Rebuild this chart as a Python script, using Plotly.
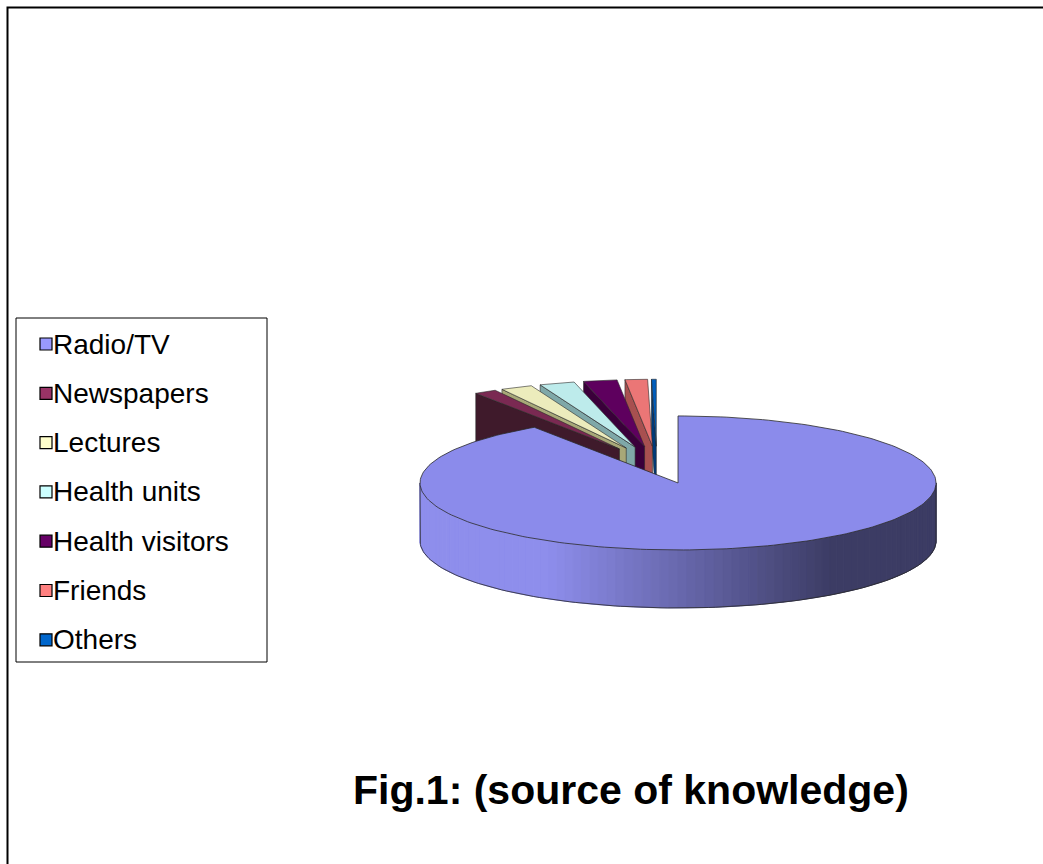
import numpy as np
import plotly.graph_objects as go

# ---------------- data ----------------
categories = ["Radio/TV", "Newspapers", "Lectures", "Health units",
              "Health visitors", "Friends", "Others"]
values = [90.6, 1.4, 2.0, 2.2, 2.1, 1.4, 0.3]
title_text = "Fig.1: (source of knowledge)"

# ---------------- styles ----------------
legend_colors = ["#9999FF", "#993366", "#FFFFCC", "#CCFFFF", "#660066", "#FF8080", "#0066CC"]
top_colors = ["#8b8beb", "#7a2952", "#ececbc", "#bdebeb", "#5e005e", "#eb7676", "#005ebc"]
face_colors = ["#4a4a80", "#3f1a2b", "#a8a878", "#7fa8a8", "#3a003a", "#a85050", "#003a78"]

W, H = 1043, 864
CX0, CY0 = 657.0, 465.0     # pie centre (pixels)
A, B = 258.0, 67.0          # ellipse semi-axes
DEPTH = 58.0                # pie thickness
EXPLODE = 0.28

# legend box geometry (pixels)
LEG_X0, LEG_Y0, LEG_X1, LEG_Y1 = 16, 318, 267, 662
LEG_ROW0, LEG_STEP = 344, 49.3
LEG_SYM_X, LEG_SYM = 46, 12
LEG_TXT_X = 51

FONT = "Liberation Sans, Arial, sans-serif"

fig = go.Figure()

tot = float(sum(values))
angles = np.cumsum([0.0] + [v / tot * 360.0 for v in values])


def arc(cx, cy, t0, t1, n=60, dy=0.0):
    th = np.radians(np.linspace(t0, t1, n))
    return cx + A * np.sin(th), cy - B * np.cos(th) + dy


def centre(i):
    mid = np.radians((angles[i] + angles[i + 1]) / 2)
    return CX0 + EXPLODE * A * np.sin(mid), CY0 - EXPLODE * B * np.cos(mid)


def poly(xs, ys, fill, line="#2a2a2a", lw=0.6):
    fig.add_trace(go.Scatter(x=list(xs), y=list(ys), mode="lines", fill="toself",
                             fillcolor=fill, line=dict(color=line, width=lw),
                             hoverinfo="skip", showlegend=False))


# small slices (back), drawn from the farthest (last) to the nearest
for i in range(len(values) - 1, 0, -1):
    cx, cy = centre(i)
    t0, t1 = angles[i], angles[i + 1]
    rx, ry = arc(cx, cy, t0, t0, n=1)
    fx = [cx, rx[0], rx[0], cx, cx]
    fy = [cy, ry[0], ry[0] + DEPTH, cy + DEPTH, cy]
    poly(fx, fy, face_colors[i])
    ax_, ay_ = arc(cx, cy, t0, t1, n=20)
    poly([cx] + list(ax_) + [cx], [cy] + list(ay_) + [cy], top_colors[i])

# Radio/TV slice (front)
cx, cy = centre(0)
t0, t1 = angles[0], angles[1]


def rim_color(t):
    c0 = np.array([142, 142, 236])
    c1 = np.array([60, 60, 100])
    s = np.clip((t - 0.25) / 0.55, 0, 1)
    c = c0 + (c1 - c0) * s
    return "rgb(%d,%d,%d)" % tuple(c.astype(int))


rim_steps = np.linspace(270, 90, 91)
for k in range(len(rim_steps) - 1):
    a0, a1 = rim_steps[k], rim_steps[k + 1]
    tx, ty = arc(cx, cy, a0, a1, n=4)
    bx, by = arc(cx, cy, a1, a0, n=4, dy=DEPTH)
    xm = cx + A * np.sin(np.radians((a0 + a1) / 2))
    col = rim_color((xm - (cx - A)) / (2 * A))
    poly(list(tx) + list(bx) + [tx[0]], list(ty) + list(by) + [ty[0]], col, line=col, lw=1)

ox, oy = arc(cx, cy, 270, 90, n=120, dy=DEPTH)
lx, ly = arc(cx, cy, 270, 270, n=1)
rx_, ry_ = arc(cx, cy, 90, 90, n=1)
fig.add_trace(go.Scatter(x=[lx[0]] + list(ox) + [rx_[0]], y=[ly[0]] + list(oy) + [ry_[0]],
                         mode="lines", line=dict(color="#2a2a2a", width=0.8),
                         hoverinfo="skip", showlegend=False))

ax_, ay_ = arc(cx, cy, t0, t1, n=240)
poly([cx] + list(ax_) + [cx], [cy] + list(ay_) + [cy], top_colors[0], lw=0.8)

# ---------------- legend (drawn as box, swatches and text) ----------------
fig.add_shape(type="rect", xref="x", yref="y", x0=LEG_X0, x1=LEG_X1, y0=LEG_Y0, y1=LEG_Y1,
              line=dict(color="black", width=1), fillcolor="white", layer="below")
for k, (cat, col) in enumerate(zip(categories, legend_colors)):
    yc = LEG_ROW0 + k * LEG_STEP
    fig.add_shape(type="rect", xref="x", yref="y",
                  x0=LEG_SYM_X - LEG_SYM / 2, x1=LEG_SYM_X + LEG_SYM / 2,
                  y0=yc - LEG_SYM / 2, y1=yc + LEG_SYM / 2,
                  line=dict(color="black", width=1.2), fillcolor=col)
    fig.add_annotation(x=LEG_TXT_X, y=yc, xref="x", yref="y", text=cat,
                       showarrow=False, xanchor="left", yanchor="middle",
                       font=dict(family=FONT, size=28, color="black"))

fig.add_annotation(x=631, y=790, xref="x", yref="y", text="<b>" + title_text + "</b>",
                   showarrow=False, xanchor="center", yanchor="middle",
                   font=dict(family=FONT, size=41, color="black"))

fig.add_shape(type="rect", xref="paper", yref="paper",
              x0=7.5 / W, x1=1.05, y0=-0.05, y1=1 - 7.5 / H,
              line=dict(color="black", width=2))

fig.update_layout(
    width=W, height=H,
    margin=dict(l=0, r=0, t=0, b=0),
    paper_bgcolor="white", plot_bgcolor="white",
    xaxis=dict(range=[0, W], visible=False, fixedrange=True),
    yaxis=dict(range=[H, 0], visible=False, fixedrange=True),
    showlegend=False,
)

fig.write_html("out.html")
